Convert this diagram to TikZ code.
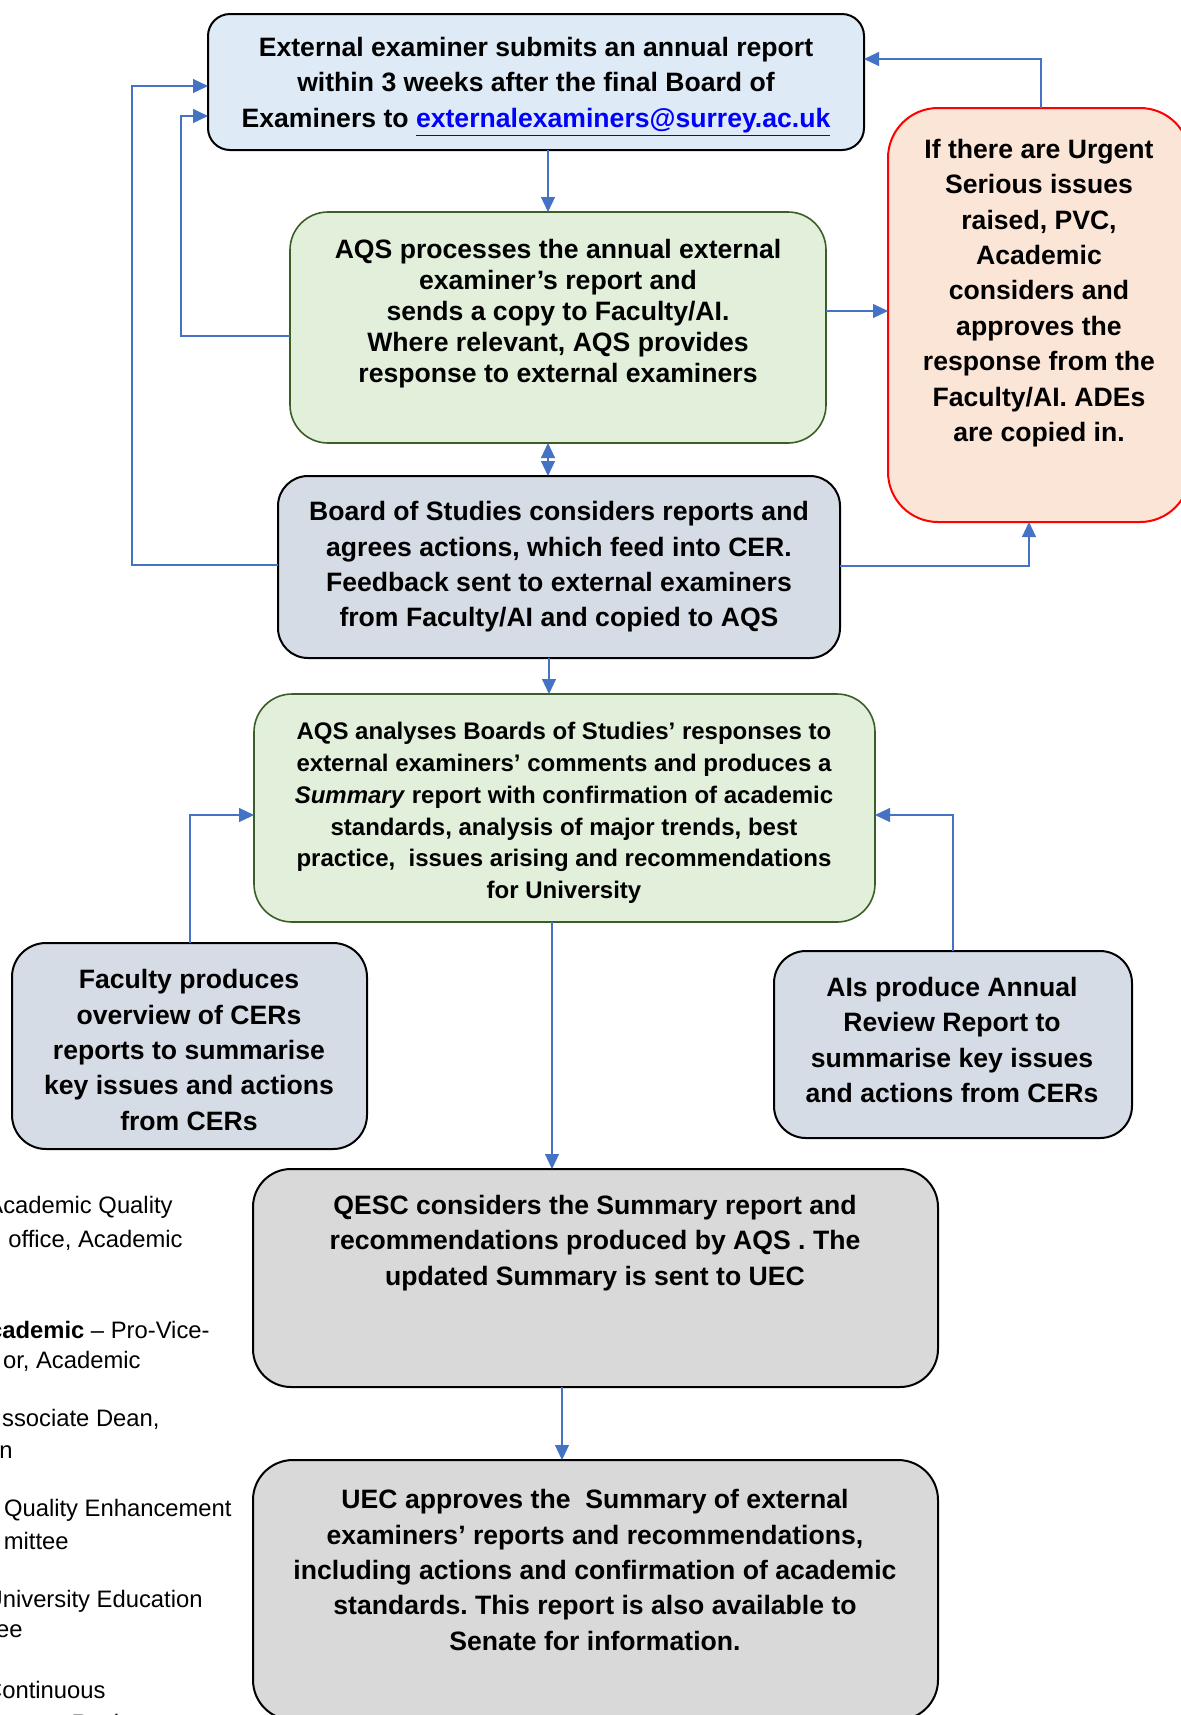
\documentclass[tikz,border=0pt]{standalone}
\usepackage{fontspec}
\setmainfont{Liberation Sans}
\usetikzlibrary{arrows.meta}
\definecolor{arrowblue}{HTML}{4472C4}
\definecolor{fillblue}{HTML}{DEEBF7}
\definecolor{fillgreen}{HTML}{E2EFDA}
\definecolor{edgegreen}{HTML}{3B5E27}
\definecolor{fillpeach}{HTML}{FBE5D6}
\definecolor{edgered}{HTML}{FF0000}
\definecolor{fillslate}{HTML}{D6DCE5}
\definecolor{fillgray}{HTML}{D9D9D9}
\definecolor{linkblue}{HTML}{0000FF}
\frenchspacing
\begin{document}
\begin{tikzpicture}[x=0.5pt,y=-0.5pt,
  boxbase/.style={draw, line width=1pt, inner sep=0pt, outer sep=0pt},
  blackbox/.style={boxbase, draw=black},
  greenbox/.style={boxbase, draw=edgegreen, fill=fillgreen, line width=0.8pt},
  redbox/.style={boxbase, draw=edgered, fill=fillpeach},
  txt/.style={inner sep=0pt, align=center, font=\bfseries\fontsize{13.3}{17.7}\selectfont},
  gloss/.style={inner sep=0pt, anchor=east, font=\fontsize{11.9}{16.4}\selectfont},
  conn/.style={draw=arrowblue, line width=0.6pt},
  arr/.style={conn, -{Triangle[length=7.5pt,width=7pt]}},
  darr/.style={conn, {Triangle[length=7.5pt,width=7pt]}-{Triangle[length=7.5pt,width=7pt]}}
]
\useasboundingbox (0,0) rectangle (1181,1715);

% boxes
\node[blackbox, fill=fillblue, rounded corners=11pt, minimum width=328pt, minimum height=68pt] (b1) at (536,82) {};
\node[greenbox, rounded corners=19pt, minimum width=268pt, minimum height=115.5pt] (b2) at (558,327.5) {};
\node[redbox, rounded corners=25pt, minimum width=151pt, minimum height=207pt] (red) at (1039,315) {};
\node[blackbox, fill=fillslate, rounded corners=15pt, minimum width=281pt, minimum height=91pt] (b3) at (559,567) {};
\node[greenbox, rounded corners=19pt, minimum width=310.5pt, minimum height=114pt] (b4) at (564.5,808) {};
\node[blackbox, fill=fillslate, rounded corners=17pt, minimum width=177.5pt, minimum height=103pt] (b5) at (189.5,1046) {};
\node[blackbox, fill=fillslate, rounded corners=16pt, minimum width=179pt, minimum height=93.5pt] (b6) at (953,1044.5) {};
\node[blackbox, fill=fillgray, rounded corners=19pt, minimum width=342.5pt, minimum height=109pt] (b7) at (595.5,1278) {};
\node[blackbox, fill=fillgray, rounded corners=20pt, minimum width=342.5pt, minimum height=130pt] (b8) at (595.5,1590) {};

% texts
\node[txt] (t1) at (536,87) {External examiner submits an annual report\\within 3 weeks after the final Board of\\Examiners to \textcolor{linkblue}{\underline{externalexaminers@surrey.ac.uk}}};
\node[txt, font=\bfseries\fontsize{13.3}{15.5}\selectfont] (t2) at (558,314) {AQS processes the annual external\\examiner’s report and\\sends a copy to Faculty/AI.\\Where relevant, AQS provides\\response to external examiners};
\node[txt] (tr) at (1039,293) {If there are Urgent\\Serious issues\\raised, PVC,\\Academic\\considers and\\approves the\\response from the\\Faculty/AI. ADEs\\are copied in.};
\node[txt] (t3) at (559,567) {Board of Studies considers reports and\\agrees actions, which feed into CER.\\Feedback sent to external examiners\\from Faculty/AI and copied to AQS};
\node[txt, font=\bfseries\fontsize{12}{15.85}\selectfont] (t4) at (564,813) {AQS analyses Boards of Studies’ responses to\\external examiners’ comments and produces a\\\textit{Summary} report with confirmation of academic\\standards, analysis of major trends, best\\practice, \ issues arising and recommendations\\for University};
\node[txt] (t5) at (189,1050) {Faculty produces\\overview of CERs\\reports to summarise\\key issues and actions\\from CERs};
\node[txt] (t6) at (952,1040) {AIs produce Annual\\Review Report to\\summarise key issues\\and actions from CERs};
\node[txt] (t7) at (595,1243) {QESC considers the Summary report and\\recommendations produced by AQS . The\\updated Summary is sent to UEC};
\node[txt] (t8) at (595,1570) {UEC approves the \ Summary of external\\examiners’ reports and recommendations,\\including actions and confirmation of academic\\standards. This report is also available to\\Senate for information.};

% glossary (cut off at the left edge)
\node[gloss] (g1) at (173,1207) {Academic Quality};
\node[gloss] (g2) at (183,1240) {office, Academic};
\node[gloss] (g3) at (210,1330) {\textbf{cademic} – Pro-Vice-};
\node[gloss] (g4) at (141,1361) {or, Academic};
\node[gloss] (g5) at (160,1419) {ssociate Dean,};
\node[gloss] (g6) at (13,1452) {n};
\node[gloss] (g7) at (232,1510) {Quality Enhancement};
\node[gloss] (g8) at (69,1541) {mittee};
\node[gloss] (g9) at (203,1601) {University Education};
\node[gloss] (g10) at (23,1631) {ee};
\node[gloss] (g11) at (106,1690) {Continuous};
\node[gloss] (g12) at (150,1723) {ment Review};

% connector coordinates
\coordinate (cA) at (548,0);
\coordinate (cB) at (0,311);
\coordinate (cC) at (1041,59);
\coordinate (cE) at (1029,566);
\coordinate (cF) at (132,565);
\coordinate (cG) at (132,86);
\coordinate (cH) at (181,336);
\coordinate (cI) at (181,116);
\coordinate (cJ) at (549,0);
\coordinate (cK) at (190,815);
\coordinate (cL) at (953,815);
\coordinate (cM) at (552,0);
\coordinate (cN) at (562,0);

% connectors
\draw[arr] (b1.south -| cA) -- (b2.north -| cA);
\draw[darr] (b2.south -| cA) -- (b3.north -| cA);
\draw[arr] (b2.east |- cB) -- (red.west |- cB);
\draw[arr] (red.north -| cC) |- (b1.east |- cC);
\draw[arr] (b3.east |- cE) -| (red.south -| cE);
\draw[arr] (b3.west |- cF) -- (cF) -- (cG) -- (b1.west |- cG);
\draw[arr] (b2.west |- cH) -- (cH) -- (cI) -- (b1.west |- cI);
\draw[arr] (b3.south -| cJ) -- (b4.north -| cJ);
\draw[arr] (b5.north -| cK) |- (b4.west |- cK);
\draw[arr] (b6.north -| cL) |- (b4.east |- cL);
\draw[arr] (b4.south -| cM) -- (b7.north -| cM);
\draw[arr] (b7.south -| cN) -- (b8.north -| cN);
\end{tikzpicture}
\end{document}
